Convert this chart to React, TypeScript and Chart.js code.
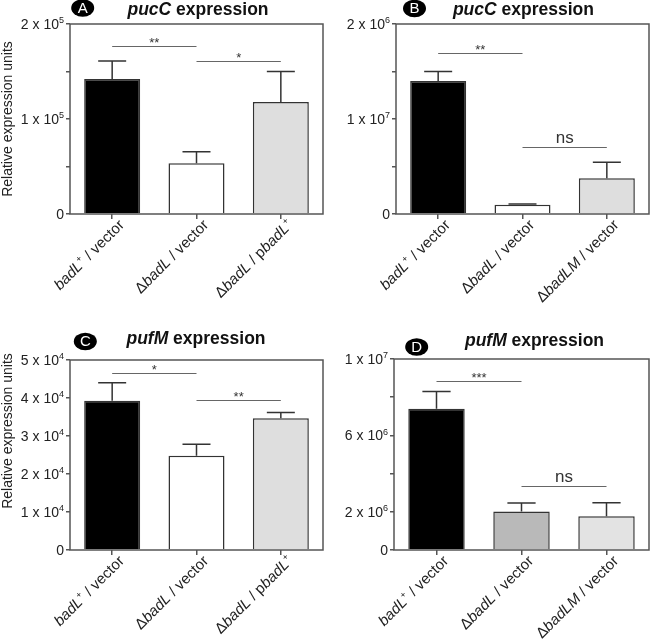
import React, { useEffect, useRef } from 'react';
import { Chart, registerables } from 'chart.js';

Chart.register(...registerables);

const FONT = '"Liberation Sans", Arial, Helvetica, sans-serif';

// ---------- data ----------
const categoriesLeft = ['_badL_^+^ / vector', 'Δ_badL_ / vector', 'Δ_badL_ / p_badL_^+^'];
const categoriesRight = ['_badL_^+^ / vector', 'Δ_badL_ / vector', 'Δ_badLM_ / vector'];

const valuesA = [142000, 53400, 118000];
const errorsA = [19000, 12200, 32000];
const valuesB = [14000000, 980000, 3760000];
const errorsB = [1000000, 70000, 1680000];
const valuesC = [39300, 24800, 34700];
const errorsC = [4700, 3000, 1500];
const valuesD = [7390000, 2010000, 1770000];
const errorsD = [910000, 450000, 710000];

const colorsABC = ['#000000', '#ffffff', '#dedede'];
const colorsD = ['#000000', '#b9b9b9', '#e3e3e3'];

const yTickValuesA = [0, 50000, 100000, 150000, 200000];
const yTickLabelsA = ['0', '', '1 x 10^5^', '', '2 x 10^5^'];
const yTickValuesB = [0, 5000000, 10000000, 15000000, 20000000];
const yTickLabelsB = ['0', '', '1 x 10^7^', '', '2 x 10^6^'];
const yTickValuesC = [0, 10000, 20000, 30000, 40000, 50000];
const yTickLabelsC = ['0', '1 x 10^4^', '2 x 10^4^', '3 x 10^4^', '4 x 10^4^', '5 x 10^4^'];
const yTickValuesD = [0, 2000000, 4000000, 6000000, 8000000, 10000000];
const yTickLabelsD = ['0', '2 x 10^6^', '', '6 x 10^6^', '', '1 x 10^7^'];

// significance brackets: [fromIndex, toIndex, yValue, label]
const sigA: [number, number, number, string][] = [[0, 1, 177200, '**'], [1, 2, 161000, '*']];
const sigB: [number, number, number, string][] = [[0, 1, 16980000, '**'], [1, 2, 7080000, 'ns']];
const sigC: [number, number, number, string][] = [[0, 1, 46500, '*'], [1, 2, 39500, '**']];
const sigD: [number, number, number, string][] = [[0, 1, 8830000, '***'], [1, 2, 3360000, 'ns']];

const titleA = '_pucC_ expression';
const titleC = '_pufM_ expression';
const yAxisTitle = 'Relative expression units';

// ---------- rich text helpers ----------
type Seg = { text: string; italic: boolean; sup: boolean };
function parseRich(s: string): Seg[] {
  const segs: Seg[] = [];
  let italic = false;
  let sup = false;
  let cur = '';
  const push = () => {
    if (cur) segs.push({ text: cur, italic, sup });
    cur = '';
  };
  for (const ch of s) {
    if (ch === '_') { push(); italic = !italic; }
    else if (ch === '^') { push(); sup = !sup; }
    else cur += ch;
  }
  push();
  return segs;
}
function segFont(seg: Seg, size: number, bold: boolean) {
  const sz = seg.sup ? Math.round(size * 0.62) : size;
  return `${seg.italic ? 'italic ' : ''}${bold ? 'bold ' : ''}${sz}px ${FONT}`;
}
function drawRich(
  ctx: CanvasRenderingContext2D, s: string, x: number, y: number, size: number,
  bold: boolean, align: 'left' | 'right' | 'center', color: string
) {
  const segs = parseRich(s);
  ctx.save();
  ctx.textBaseline = 'alphabetic';
  ctx.textAlign = 'left';
  ctx.fillStyle = color;
  let total = 0;
  const widths = segs.map((sg) => {
    ctx.font = segFont(sg, size, bold);
    const w = ctx.measureText(sg.text).width;
    total += w;
    return w;
  });
  let cx = align === 'left' ? x : align === 'right' ? x - total : x - total / 2;
  segs.forEach((sg, i) => {
    ctx.font = segFont(sg, size, bold);
    ctx.fillText(sg.text, cx, sg.sup ? y - size * 0.42 : y);
    cx += widths[i];
  });
  ctx.restore();
}

// ---------- panel ----------
type PanelCfg = {
  categories: string[];
  values: number[];
  errors: number[];
  colors: string[];
  yTicks: number[];
  yLabels: string[];
  sig: [number, number, number, string][];
  title: string;
  titleX: number;
  titleY: number;
  badge: string;
  badgeX: number;
  badgeY: number;
  yTitleY: number | null;
  width: number;
  height: number;
  left: number;
  right: number;
  top: number;
  bottom: number;
};

function Panel({ cfg, style }: { cfg: PanelCfg; style: React.CSSProperties }) {
  const ref = useRef<HTMLCanvasElement | null>(null);
  useEffect(() => {
    if (!ref.current) return;
    const axisColor = '#555555';
    const deco = {
      id: 'deco',
      afterDraw(chart: any) {
        const ctx: CanvasRenderingContext2D = chart.ctx;
        const a = chart.chartArea;
        const xs = chart.scales.x;
        const ys = chart.scales.y;
        ctx.save();
        // frame
        ctx.strokeStyle = axisColor;
        ctx.lineWidth = 1.5;
        ctx.strokeRect(a.left, a.top, a.right - a.left, a.bottom - a.top);
        // error bars
        const meta = chart.getDatasetMeta(0);
        ctx.strokeStyle = '#333333';
        ctx.lineWidth = 1.5;
        cfg.values.forEach((v, i) => {
          const bar: any = meta.data[i];
          const cx = bar.x;
          const half = bar.width / 4;
          const y0 = ys.getPixelForValue(v);
          const y1 = ys.getPixelForValue(v + cfg.errors[i]);
          ctx.beginPath();
          ctx.moveTo(cx, y0);
          ctx.lineTo(cx, y1);
          ctx.moveTo(cx - half, y1);
          ctx.lineTo(cx + half, y1);
          ctx.stroke();
        });
        // significance
        ctx.strokeStyle = '#666666';
        ctx.lineWidth = 1;
        cfg.sig.forEach(([f, t, yv, label]) => {
          const x0 = xs.getPixelForValue(f);
          const x1 = xs.getPixelForValue(t);
          const py = Math.round(ys.getPixelForValue(yv)) + 0.5;
          ctx.beginPath();
          ctx.moveTo(x0, py);
          ctx.lineTo(x1, py);
          ctx.stroke();
          ctx.fillStyle = '#333333';
          ctx.textAlign = 'center';
          ctx.textBaseline = 'alphabetic';
          if (label === 'ns') {
            ctx.font = `17px ${FONT}`;
            ctx.fillText(label, (x0 + x1) / 2, py - 4.5);
          } else {
            ctx.font = `13px ${FONT}`;
            ctx.fillText(label, (x0 + x1) / 2, py + 0.5);
          }
        });
        // y tick labels
        cfg.yTicks.forEach((v, i) => {
          const lab = cfg.yLabels[i];
          if (!lab) return;
          const py = ys.getPixelForValue(v);
          drawRich(ctx, lab, a.left - 6, py + 5, 14, false, 'right', '#222222');
        });
        // x labels
        cfg.categories.forEach((lab, i) => {
          const cx = xs.getPixelForValue(i);
          ctx.save();
          ctx.translate(cx + 9, a.bottom + 8);
          ctx.rotate(-Math.PI / 4);
          drawRich(ctx, lab, 0, 5.3, 15, false, 'right', '#222222');
          ctx.restore();
        });
        // title
        drawRich(ctx, cfg.title, cfg.titleX, cfg.titleY, 17.5, true, 'center', '#111111');
        // badge
        ctx.fillStyle = '#000000';
        ctx.beginPath();
        ctx.ellipse(cfg.badgeX, cfg.badgeY, 11.5, 8.7, 0, 0, Math.PI * 2);
        ctx.fill();
        ctx.fillStyle = '#ffffff';
        ctx.font = `15px ${FONT}`;
        ctx.textAlign = 'center';
        ctx.textBaseline = 'middle';
        ctx.fillText(cfg.badge, cfg.badgeX, cfg.badgeY + 0.5);
        // y axis title
        if (cfg.yTitleY !== null) {
          ctx.save();
          ctx.translate(12, cfg.yTitleY);
          ctx.rotate(-Math.PI / 2);
          ctx.fillStyle = '#222222';
          ctx.font = `14px ${FONT}`;
          ctx.textAlign = 'center';
          ctx.textBaseline = 'alphabetic';
          ctx.fillText(yAxisTitle, 0, 0);
          ctx.restore();
        }
        ctx.restore();
      },
    };
    const chart = new Chart(ref.current, {
      type: 'bar',
      data: {
        labels: cfg.categories,
        datasets: [
          {
            data: cfg.values,
            backgroundColor: cfg.colors,
            borderColor: '#333333',
            borderWidth: 1.5,
            barPercentage: 0.664,
            categoryPercentage: 1,
          },
        ],
      },
      options: {
        animation: false,
        responsive: false,
        maintainAspectRatio: false,
        devicePixelRatio: 1,
        layout: { padding: { top: cfg.top, right: cfg.width - cfg.right, left: 0, bottom: 0 } },
        plugins: { legend: { display: false }, tooltip: { enabled: false }, title: { display: false } },
        scales: {
          x: {
            type: 'category',
            offset: true,
            grid: { display: true, drawOnChartArea: false, drawTicks: true, tickLength: 5, color: axisColor, lineWidth: 1.5, offset: false },
            border: { display: false },
            ticks: { display: false },
            afterFit: (s: any) => { s.height = cfg.height - cfg.bottom; },
          },
          y: {
            type: 'linear',
            min: cfg.yTicks[0],
            max: cfg.yTicks[cfg.yTicks.length - 1],
            grid: { display: true, drawOnChartArea: false, drawTicks: true, tickLength: 4, color: axisColor, lineWidth: 1.5 },
            border: { display: false },
            ticks: { display: false },
            afterBuildTicks: (s: any) => { s.ticks = cfg.yTicks.map((v) => ({ value: v })); },
            afterFit: (s: any) => { s.width = cfg.left; },
          },
        },
      },
      plugins: [deco],
    });
    return () => chart.destroy();
  }, [cfg]);
  return <canvas ref={ref} width={cfg.width} height={cfg.height} style={{ position: 'absolute', width: cfg.width, height: cfg.height, ...style }} />;
}

const panelA: PanelCfg = {
  categories: categoriesLeft, values: valuesA, errors: errorsA, colors: colorsABC,
  yTicks: yTickValuesA, yLabels: yTickLabelsA, sig: sigA, title: titleA,
  titleX: 198, titleY: 14.5, badge: 'A', badgeX: 82.7, badgeY: 8, yTitleY: 119,
  width: 325, height: 320, left: 70, right: 323, top: 24, bottom: 214,
};
const panelB: PanelCfg = {
  categories: categoriesRight, values: valuesB, errors: errorsB, colors: colorsABC,
  yTicks: yTickValuesB, yLabels: yTickLabelsB, sig: sigB, title: titleA,
  titleX: 198.4, titleY: 14.5, badge: 'B', badgeX: 89.5, badgeY: 8.5, yTitleY: null,
  width: 325, height: 320, left: 71, right: 324, top: 24, bottom: 214,
};
const panelC: PanelCfg = {
  categories: categoriesLeft, values: valuesC, errors: errorsC, colors: colorsABC,
  yTicks: yTickValuesC, yLabels: yTickLabelsC, sig: sigC, title: titleC,
  titleX: 196, titleY: 23.5, badge: 'C', badgeX: 85.3, badgeY: 21.5, yTitleY: 111,
  width: 325, height: 323, left: 70, right: 323, top: 40, bottom: 230,
};
const panelD: PanelCfg = {
  categories: categoriesRight, values: valuesD, errors: errorsD, colors: colorsD,
  yTicks: yTickValuesD, yLabels: yTickLabelsD, sig: sigD, title: titleC,
  titleX: 209.5, titleY: 25.5, badge: 'D', badgeX: 91.7, badgeY: 27, yTitleY: null,
  width: 325, height: 323, left: 69, right: 324, top: 39, bottom: 230,
};

export default function App() {
  return (
    <div style={{ position: 'absolute', left: 0, top: 0, width: 650, height: 643, background: '#ffffff', overflow: 'hidden' }}>
      <Panel cfg={panelA} style={{ left: 0, top: 0 }} />
      <Panel cfg={panelB} style={{ left: 325, top: 0 }} />
      <Panel cfg={panelC} style={{ left: 0, top: 320 }} />
      <Panel cfg={panelD} style={{ left: 325, top: 320 }} />
    </div>
  );
}
